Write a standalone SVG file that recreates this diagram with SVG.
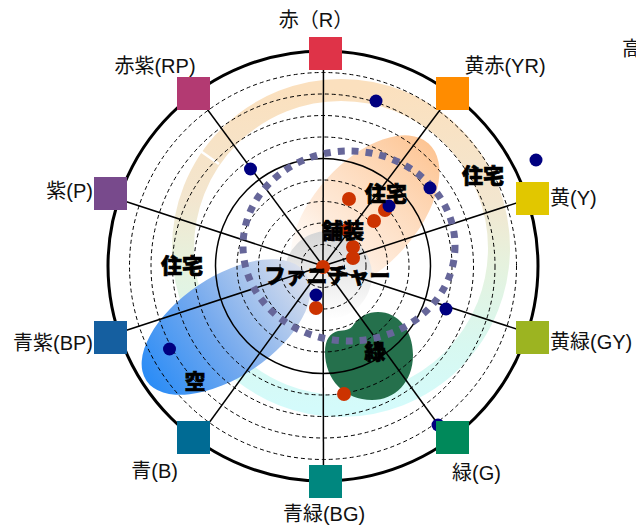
<svg xmlns="http://www.w3.org/2000/svg" width="636" height="530" viewBox="0 0 636 530">
<style>
.lbl{font-family:"Liberation Sans","Noto Sans CJK JP",sans-serif;font-size:20px;fill:#111}
.bold{font-family:"Noto Sans CJK JP","Liberation Sans",sans-serif;font-size:21px;font-weight:900;fill:#000;stroke:#000;stroke-width:0.7;text-anchor:middle}
.dash{fill:none;stroke:#000;stroke-width:1;stroke-dasharray:4 3}
.solid{fill:none;stroke:#000}
.spoke{stroke:#000;stroke-width:1.5}
.nv{fill:#000080}
.rd{fill:#CC3300}
</style>
<defs>
<linearGradient id="bandG" gradientUnits="userSpaceOnUse" x1="0" y1="88" x2="0" y2="408">
<stop offset="0" stop-color="#FBE0BE"/>
<stop offset="0.35" stop-color="#F3E6CF"/>
<stop offset="0.55" stop-color="#E6F2DE"/>
<stop offset="0.8" stop-color="#D8F8F0"/>
<stop offset="1" stop-color="#D4FBFB"/>
</linearGradient>
<linearGradient id="orG" x1="0" y1="0" x2="1" y2="0">
<stop offset="0" stop-color="#FFF2E8" stop-opacity="0"/>
<stop offset="0.35" stop-color="#FEE6D2" stop-opacity="0.8"/>
<stop offset="1" stop-color="#FDC594"/>
</linearGradient>
<linearGradient id="blG" x1="0" y1="0" x2="1" y2="0">
<stop offset="0" stop-color="#2A8CF6"/>
<stop offset="0.45" stop-color="#76AAEE"/>
<stop offset="1" stop-color="#DCE0EC"/>
</linearGradient>
<linearGradient id="grG" x1="0" y1="0" x2="0" y2="1">
<stop offset="0" stop-color="#D6D6D6"/>
<stop offset="1" stop-color="#FFFFFF"/>
</linearGradient>
</defs>
<rect width="636" height="530" fill="#fff"/>

<g id="band">
<circle cx="341" cy="248" r="158" fill="none" stroke="url(#bandG)" stroke-width="22"/>
<line x1="199" y1="150" x2="219" y2="164" stroke="#fff" stroke-width="2.5"/>
</g>
<g id="blob-jutaku">
<g transform="translate(365,214) rotate(-48)"><ellipse rx="95" ry="52" fill="url(#orG)"/></g>
</g>
<g id="blob-furniture"><circle cx="328" cy="275" r="44" fill="url(#grG)"/></g>
<g id="blob-sora">
<g transform="translate(226,327) rotate(-34)"><ellipse rx="96" ry="50" fill="url(#blG)"/></g>
</g>
<g id="blob-midori">
<path d="M325,352 C325,340 330,333 338,331 C344,330 350,331 354,324 C360,316 368,312 378,312 C398,312 413,330 413,355 C413,382 395,400 372,400 C345,400 325,380 325,352 Z" fill="#25704C"/>
</g>

<g id="rings">
<circle class="dash" cx="323" cy="266" r="21.5"/>
<circle class="dash" cx="323" cy="266" r="43"/>
<circle class="dash" cx="323" cy="266" r="64.5"/>
<circle class="dash" cx="323" cy="266" r="86"/>
<circle class="solid" cx="323" cy="266" r="107.5" stroke-width="1.5"/>
<circle class="dash" cx="323" cy="266" r="129"/>
<circle class="dash" cx="323" cy="266" r="150.5"/>
<circle class="dash" cx="323" cy="266" r="172"/>
<circle class="dash" cx="323" cy="266" r="193.5"/>
<circle class="solid" cx="323" cy="266" r="215" stroke-width="3"/>
</g>

<g id="connectors">
<line class="spoke" x1="323" y1="266" x2="323.5" y2="53"/>
<line class="spoke" x1="323" y1="266" x2="452" y2="94"/>
<line class="spoke" x1="323" y1="266" x2="532" y2="198"/>
<line class="spoke" x1="323" y1="266" x2="532" y2="334"/>
<line class="spoke" x1="323" y1="266" x2="448" y2="438"/>
<line class="spoke" x1="323" y1="266" x2="323.5" y2="481"/>
<line class="spoke" x1="323" y1="266" x2="198" y2="438"/>
<line class="spoke" x1="323" y1="266" x2="112" y2="335"/>
<line class="spoke" x1="323" y1="266" x2="112" y2="197"/>
<line class="spoke" x1="323" y1="266" x2="196" y2="94"/>
</g>

<g id="purple-ring">
<ellipse cx="349" cy="246" rx="106" ry="95" fill="none" stroke="#666699" stroke-width="7" stroke-dasharray="7 7"/>
</g>

<g id="dots">
<circle class="rd" cx="349" cy="199" r="7"/>
<circle class="rd" cx="385" cy="210" r="7"/>
<circle class="rd" cx="374" cy="221" r="7"/>
<circle class="rd" cx="347" cy="230" r="7"/>
<circle class="rd" cx="353" cy="247" r="7"/>
<circle class="rd" cx="353" cy="258" r="7"/>
<circle class="rd" cx="323" cy="267" r="7"/>
<circle class="rd" cx="316" cy="308" r="7"/>
<circle class="rd" cx="344" cy="394" r="7"/>
<circle class="nv" cx="376" cy="101" r="6.5"/>
<circle class="nv" cx="250.5" cy="169" r="6.5"/>
<circle class="nv" cx="430" cy="188" r="6.5"/>
<circle class="nv" cx="389" cy="206" r="6.5"/>
<circle class="nv" cx="536" cy="160" r="6.5"/>
<circle class="nv" cx="446" cy="309" r="6.5"/>
<circle class="nv" cx="316" cy="295" r="6.5"/>
<circle class="nv" cx="169.5" cy="349" r="6.5"/>
<circle class="nv" cx="438" cy="425" r="6.5"/>
</g>

<g id="area-labels">
<text class="bold" x="386" y="200.5">住宅</text>
<text class="bold" x="483" y="182.5">住宅</text>
<text class="bold" x="182" y="272.5">住宅</text>
<text class="bold" x="343" y="237.5">舗装</text>
<text class="bold" x="327.5" y="282.5">ファニチャー</text>
<text class="bold" x="375" y="359">緑</text>
<text class="bold" x="195" y="388.5">空</text>
</g>

<g id="hue-R"><rect x="309" y="37" width="33" height="33" fill="#DF3348"/><text class="lbl" x="316" y="27" text-anchor="middle">赤（R）</text></g>
<g id="hue-YR"><rect x="436" y="77" width="33" height="33" fill="#FF8C00"/><text class="lbl" x="505" y="73" text-anchor="middle">黄赤(YR)</text></g>
<g id="hue-Y"><rect x="516" y="182" width="33" height="33" fill="#E1C700"/><text class="lbl" x="550" y="204.5">黄(Y)</text></g>
<g id="hue-GY"><rect x="516" y="321" width="33" height="33" fill="#9CB421"/><text class="lbl" x="550" y="348.5">黄緑(GY)</text></g>
<g id="hue-G"><rect x="436" y="421" width="33" height="33" fill="#00895A"/><text class="lbl" x="452" y="479.5">緑(G)</text></g>
<g id="hue-BG"><rect x="309" y="465" width="33" height="33" fill="#00877F"/><text class="lbl" x="324" y="521" text-anchor="middle">青緑(BG)</text></g>
<g id="hue-B"><rect x="177" y="421" width="33" height="33" fill="#006B94"/><text class="lbl" x="178" y="478" text-anchor="end">青(B)</text></g>
<g id="hue-BP"><rect x="94" y="321" width="33" height="33" fill="#155FA0"/><text class="lbl" x="93" y="349.5" text-anchor="end">青紫(BP)</text></g>
<g id="hue-P"><rect x="94" y="177" width="33" height="33" fill="#784A8C"/><text class="lbl" x="93" y="198" text-anchor="end">紫(P)</text></g>
<g id="hue-RP"><rect x="177" y="77" width="33" height="33" fill="#B33A72"/><text class="lbl" x="155" y="73" text-anchor="middle">赤紫(RP)</text></g>
<g id="corner-text"><text class="lbl" x="622" y="56">高</text></g>
</svg>
